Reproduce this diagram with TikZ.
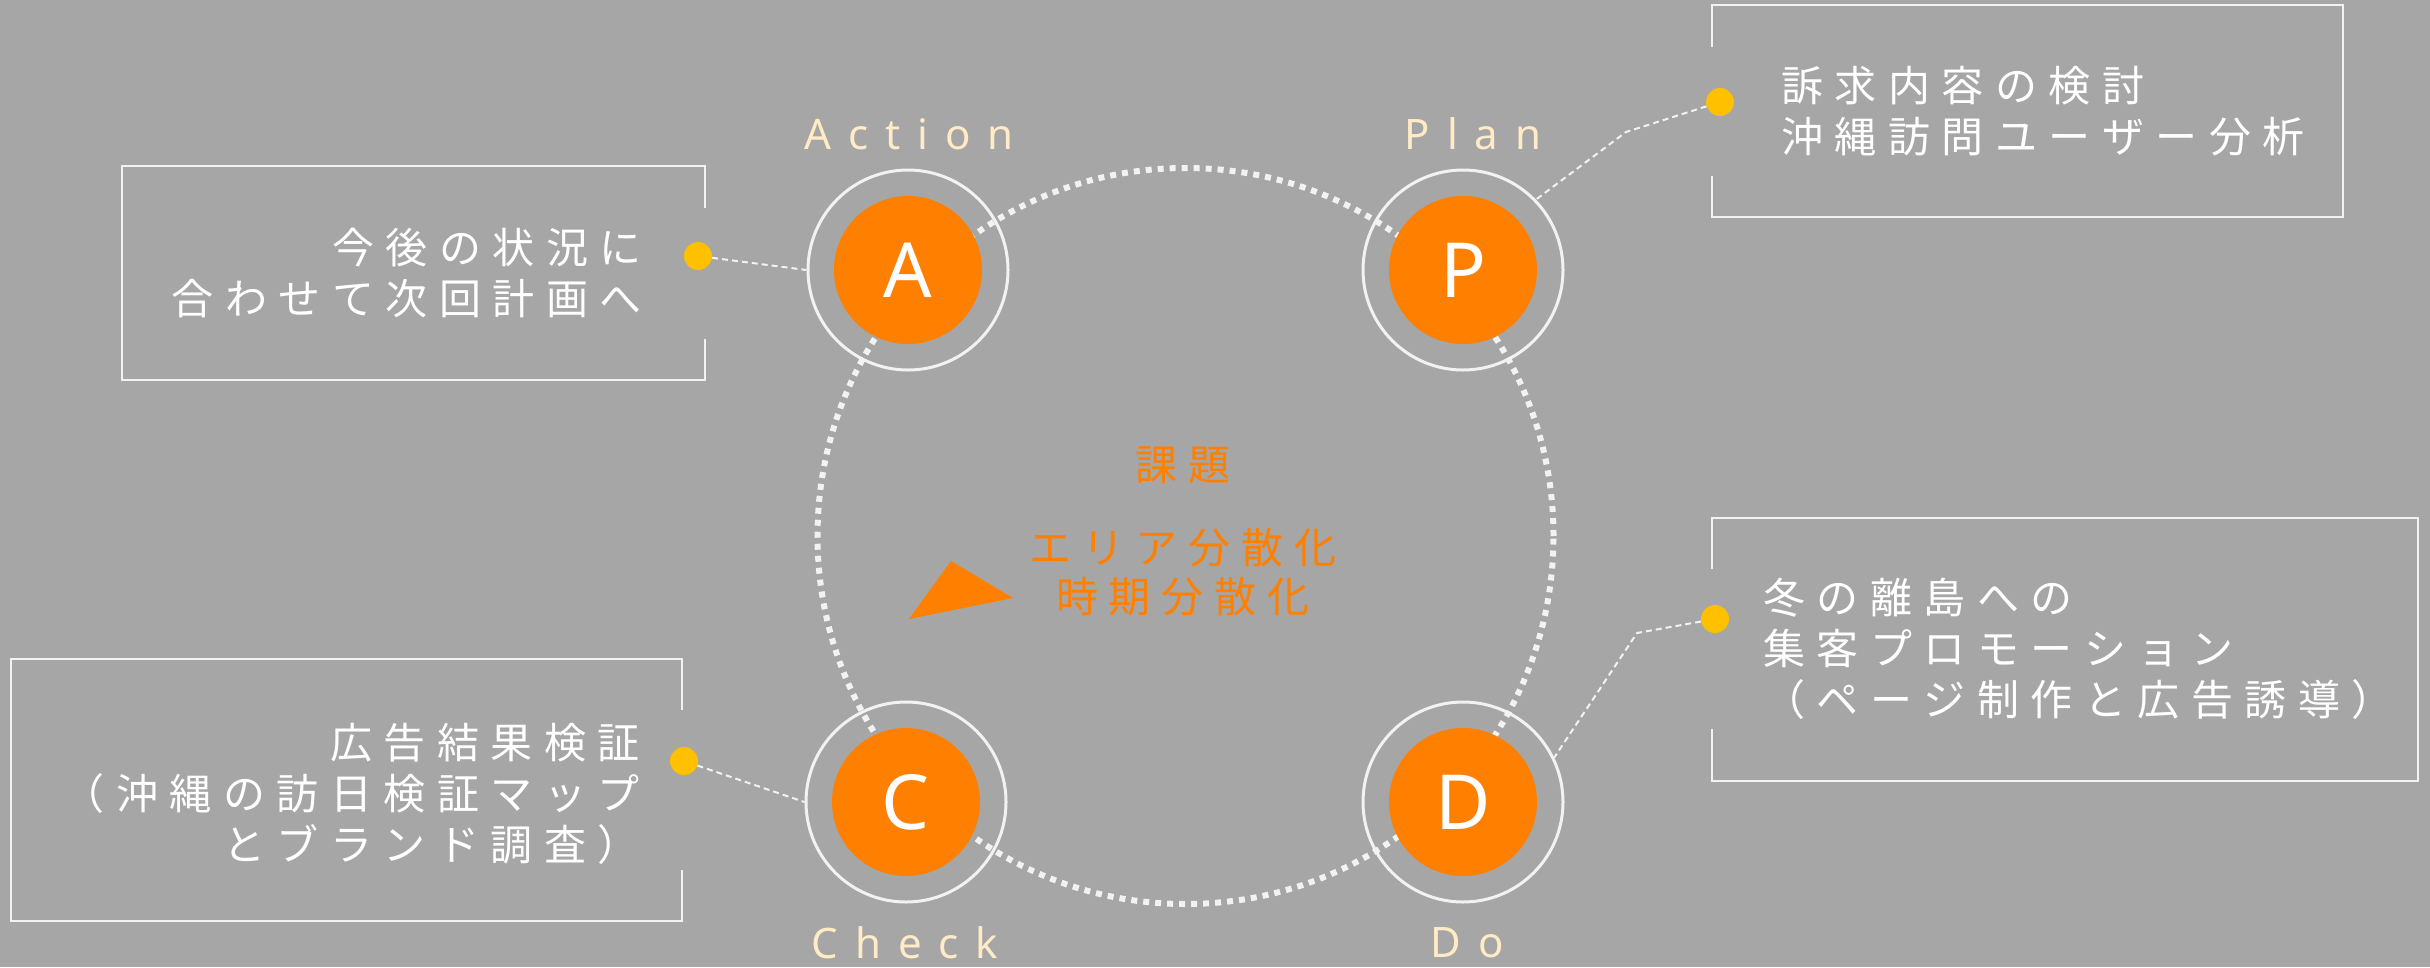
\documentclass[tikz,border=0pt]{standalone}
\usepackage{fontspec}
\newfontfamily\jp{Noto Sans CJK JP}
\newfontfamily\lat{Noto Sans}
\definecolor{bg}{HTML}{A6A6A6}
\definecolor{orng}{HTML}{FF7F00}
\definecolor{ylw}{HTML}{FFC000}
\definecolor{cream}{HTML}{FFEBC6}
\definecolor{linew}{HTML}{F2F2F2}
\newdimen\lsp
\lsp=11pt
\def\ls#1{\lsA#1\relax}
\def\lsA#1{#1\lsB}
\def\lsB#1{\ifx\relax#1\else\kern\lsp#1\expandafter\lsB\fi}
\begin{document}
\begin{tikzpicture}[x=1pt,y=-1pt,
  ring/.style={circle,draw=linew,line width=3pt,minimum size=200pt,inner sep=0pt},
  disk/.style={circle,fill=orng,minimum size=148pt,inner sep=0pt,text=white,font=\lat\fontsize{76}{76}\selectfont},
  ydot/.style={circle,fill=ylw,minimum size=28pt,inner sep=0pt},
  conn/.style={draw=linew,line width=2pt,dash pattern=on 6pt off 4pt},
  boxline/.style={draw=linew,line width=2.5pt},
  bigdash/.style={draw=linew,line width=6pt,dash pattern=on 6pt off 6pt},
  jtext/.style={text=white,inner sep=0pt,font={\jp\fontsize{42}{51}\selectfont\lsp=11.5pt}},
  ctext/.style={text=orng,inner sep=0pt,font={\jp\fontsize{42}{49}\selectfont\lsp=11pt}},
  ltext/.style={text=cream,inner sep=0pt,font={\lat\fontsize{42}{42}\selectfont\lsp=17pt}}
]
\fill[bg] (0,0) rectangle (2430,967);
\useasboundingbox (0,0) rectangle (2430,967);

% big dashed cycle
\draw[bigdash] (1185.5,536) circle[radius=368pt];

% rings and disks
\node[ring] (Ar) at (908,270) {};
\node[ring] (Pr) at (1463,270) {};
\node[ring] (Cr) at (906,802) {};
\node[ring] (Dr) at (1463,802) {};
\node[disk] (A) at (908,270) {A};
\node[disk] (P) at (1463,270) {P};
\node[disk] (C) at (906,802) {C};
\node[disk] (D) at (1463,802) {D};

% labels
\node[ltext] (lA) at (909,134) {\ls{Action}};
\node[ltext] (lP) at (1473,134) {\ls{Plan}};
\node[ltext] (lC) at (905,943) {\ls{Check}};
\node[ltext] (lD) at (1467,943) {\ls{Do}};

% center text
\node[ctext] (kadai) at (1183,465) {\ls{課題}};
\node[ctext,align=center] (issue) at (1183,572) {\ls{エリア分散化}\\\ls{時期分散化}};
\fill[orng] (951,561) -- (1013,598) -- (909,619) -- cycle;

% boxes
\draw[boxline] (705,208) -- (705,166) -- (122,166) -- (122,380) -- (705,380) -- (705,339);
\draw[boxline] (1712,47) -- (1712,5) -- (2343,5) -- (2343,217) -- (1712,217) -- (1712,176);
\draw[boxline] (682,710) -- (682,659) -- (11,659) -- (11,921) -- (682,921) -- (682,870);
\draw[boxline] (1712,569) -- (1712,518) -- (2418,518) -- (2418,781) -- (1712,781) -- (1712,729);

% box texts
\node[jtext,align=right,anchor=east] (tA) at (642,273) {\ls{今後の状況に}\\\ls{合わせて次回計画へ}};
\node[jtext,align=left,anchor=west] (tP) at (1781,111) {\ls{訴求内容の検討}\\\ls{沖縄訪問ユーザー分析}};
\node[jtext,align=right,anchor=east] (tC) at (640,794) {\ls{広告結果検証}\\\ls{（沖縄の訪日検証マップ}\\\ls{とブランド調査）}};
\node[jtext,align=left,anchor=west] (tD) at (1763,649) {\ls{冬の離島への}\\\ls{集客プロモーション}\\\ls{（ページ制作と広告誘導）}};

% dots and connectors
\node[ydot] (dA) at (698,256) {};
\node[ydot] (dP) at (1720,102) {};
\node[ydot] (dC) at (684,761) {};
\node[ydot] (dD) at (1715,619) {};
\coordinate (eP) at (1626,132);
\coordinate (eD) at (1637,633);
\draw[conn] (dA) -- (Ar.west);
\draw[conn] (dP) -- (eP) -- (Pr.44);
\draw[conn] (dC) -- (Cr.west);
\draw[conn] (dD) -- (eD) -- (Dr.26);
\end{tikzpicture}
\end{document}
